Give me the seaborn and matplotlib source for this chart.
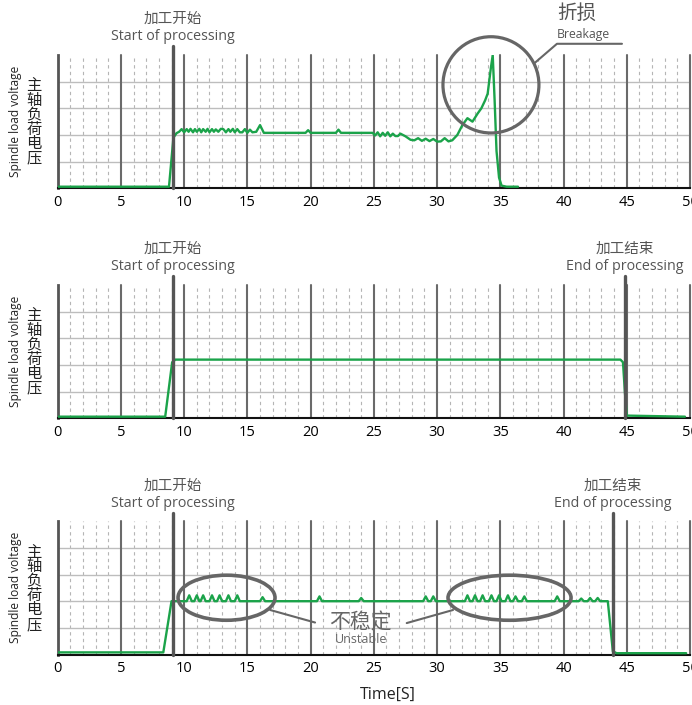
import matplotlib
matplotlib.use("Agg")
import matplotlib.pyplot as plt
from matplotlib.patches import Ellipse
import seaborn as sns

sns.set_style("white")
plt.rcParams["font.family"] = ["Open Sans", "Noto Sans CJK SC"]

GREEN = "#1ba34a"
MARK = "#555555"
NOTE = "#666666"

# panel 1: breakage run
x1 = [0, 8.8, 9.15, 9.4, 9.6, 9.8, 10.0, 10.2, 10.35, 10.5, 10.7, 10.85, 11.0, 11.2, 11.35,
      11.5, 11.7, 11.85, 12.0, 12.2, 12.35, 12.5, 12.7, 12.9, 13.1, 13.3, 13.5, 13.65, 13.85,
      14.0, 14.2, 14.4, 14.6, 14.8, 15.0, 15.2, 15.4, 15.7, 16.0, 16.3, 19.6, 19.8, 20.0,
      22.0, 22.2, 22.4, 24.9, 25.1, 25.3, 25.5, 25.7, 25.9, 26.1, 26.3, 26.5, 26.7, 26.9,
      27.1, 27.5, 27.9, 28.2, 28.5, 28.8, 29.1, 29.4, 29.7, 30.0, 30.3, 30.6, 30.9, 31.2,
      31.6, 32.0, 32.4, 32.8, 33.2, 33.5, 33.8, 34.0, 34.25, 34.4, 34.55, 34.7, 34.9, 35.1,
      35.5, 36.4]
y1 = [0.06, 0.06, 1.9, 2.07, 2.12, 2.22, 2.1, 2.22, 2.12, 2.23, 2.1, 2.22, 2.12, 2.23, 2.1,
      2.22, 2.12, 2.23, 2.1, 2.22, 2.12, 2.21, 2.12, 2.23, 2.22, 2.1, 2.22, 2.12, 2.23,
      2.1, 2.22, 2.1, 2.1, 2.22, 2.08, 2.2, 2.1, 2.12, 2.37, 2.08, 2.08, 2.18, 2.08,
      2.08, 2.2, 2.08, 2.08, 1.98, 2.1, 1.95, 2.08, 1.97, 2.1, 1.95, 2.05, 1.96, 1.96,
      2.05, 1.95, 1.82, 1.8, 1.88, 1.78, 1.86, 1.77, 1.85, 1.75, 1.76, 1.88, 1.76, 1.8,
      2.0, 2.37, 2.63, 2.5, 2.8, 3.0, 3.3, 3.55, 4.5, 5.0, 3.3, 1.4, 0.4, 0.1,
      0.06, 0.06]

# panel 2: normal run
x2 = [0, 8.5, 9.05, 9.3, 44.5, 44.7, 44.85, 45.0, 49.6]
y2 = [0.06, 0.06, 2.1, 2.2, 2.2, 2.1, 1.0, 0.1, 0.06]

# panel 3: unstable run
x3 = [0, 8.35, 9.0,
      10.2, 10.4, 10.6, 10.8, 11.0, 11.2, 11.3, 11.5, 11.7, 12.0, 12.2, 12.4,
      12.6, 12.8, 13.0, 13.3, 13.5, 13.7, 14.0, 14.2, 14.4, 16.0, 16.2, 16.4,
      20.5, 20.7, 20.9, 23.8, 24.0, 24.2, 28.9, 29.1, 29.3, 29.5, 29.7, 29.9,
      32.2, 32.4, 32.6, 32.8, 33.0, 33.2, 33.4, 33.6, 33.8, 34.1, 34.3, 34.5,
      34.7, 34.9, 35.1, 35.4, 35.6, 35.8, 36.0, 36.2, 36.4, 36.7, 36.9, 37.1,
      39.3, 39.5, 39.7, 41.2, 41.4, 41.6, 41.9, 42.1, 42.3, 42.5, 42.7, 42.9,
      43.5, 43.9, 44.2, 49.7]
y3 = [0.08, 0.08, 2.0,
      2.0, 2.22, 2.0, 2.0, 2.22, 2.0, 2.0, 2.22, 2.0, 2.0, 2.22, 2.0,
      2.0, 2.22, 2.0, 2.0, 2.22, 2.0, 2.0, 2.22, 2.0, 2.0, 2.15, 2.0,
      2.0, 2.18, 2.0, 2.0, 2.12, 2.0, 2.0, 2.18, 2.0, 2.0, 2.18, 2.0,
      2.0, 2.22, 2.0, 2.0, 2.22, 2.0, 2.0, 2.22, 2.0, 2.0, 2.22, 2.0,
      2.0, 2.22, 2.0, 2.0, 2.22, 2.0, 2.0, 2.18, 2.0, 2.0, 2.18, 2.0,
      2.0, 2.18, 2.0, 2.0, 2.1, 2.0, 2.0, 2.12, 2.0, 2.0, 2.12, 2.0,
      2.0, 0.12, 0.05, 0.05]

ticks = list(range(0, 51, 5))
start_x = 9.1
end_x = [None, 44.85, 43.9]

fig = plt.figure(figsize=(6.92, 7.05), dpi=100)
left, width, height = 0.0834, 0.9137, 0.1891
bottoms = [0.7329, 0.4067, 0.0716]
series = [(x1, y1), (x2, y2), (x3, y3)]
axes = []

for i, (bottom, (xs, ys)) in enumerate(zip(bottoms, series)):
    ax = fig.add_axes([left, bottom, width, height])
    axes.append(ax)
    ax.set_xlim(0, 50)
    ax.set_ylim(0, 5)
    for x in range(1, 50):
        if x % 5:
            ax.axvline(x, color="#b5b5b5", lw=0.8, ls=(0, (3, 3)), zorder=0)
    for y in range(1, 5):
        ax.axhline(y, color="#bdbdbd", lw=1.0, zorder=0)
    for x in range(5, 51, 5):
        ax.axvline(x, color="#6a6a6a", lw=1.5, zorder=1, clip_on=False)
    sns.lineplot(x=xs, y=ys, ax=ax, color=GREEN, lw=1.7, sort=False,
                 estimator=None, zorder=4)
    ax.set_xticks(ticks)
    ax.set_yticks([])
    ax.set_xlabel("")
    ax.set_ylabel("")
    ax.tick_params(axis="x", length=0, pad=5, labelsize=10.5, labelcolor="#000")
    for s in ["top", "right"]:
        ax.spines[s].set_visible(False)
    ax.spines["left"].set_color("#555")
    ax.spines["left"].set_linewidth(2)
    ax.spines["bottom"].set_color("#111")
    ax.spines["bottom"].set_linewidth(1.5)

    # markers for start / end of processing
    def marker(xm, cn, en):
        ax.axvline(xm, ymin=0, ymax=1.065, color=MARK, lw=2.4, zorder=5, clip_on=False)
        ax.annotate(cn, xy=(xm, 1), xycoords=("data", "axes fraction"), xytext=(0, 25.5),
                    textcoords="offset points", ha="center", va="center",
                    fontsize=10.5, color="#555")
        ax.annotate(en, xy=(xm, 1), xycoords=("data", "axes fraction"), xytext=(0, 13),
                    textcoords="offset points", ha="center", va="center",
                    fontsize=10.3, color="#555")

    marker(start_x, "加工开始", "Start of processing")
    if end_x[i] is not None:
        marker(end_x[i], "加工结束", "End of processing")

    fig.text(16 / 692, bottom + height / 2, "Spindle load voltage", rotation=90,
             ha="center", va="center", fontsize=8.6, color="#222")
    fig.text(34 / 692, bottom + height / 2 - 0.002, "\n".join("主轴负荷电压"),
             ha="center", va="center", fontsize=11, linespacing=0.95, color="#222")

# breakage callout
ax = axes[0]
ax.add_patch(Ellipse((34.26, 3.88), 7.59, 3.61, fill=False, ec=NOTE, lw=2.3,
                     clip_on=False, zorder=6))
ax.plot([37.74, 39.48, 44.62], [4.71, 5.42, 5.42], color=NOTE, lw=1.5, clip_on=False,
        zorder=6)
ax.text(39.48, 6.55, "折损", ha="left", va="center", fontsize=14, color="#555")
ax.text(39.48, 5.76, "Breakage", ha="left", va="center", fontsize=8.8, color="#555")

# unstable callout
ax = axes[2]
ax.add_patch(Ellipse((13.35, 2.13), 7.67, 1.69, fill=False, ec=NOTE, lw=2.6,
                     clip_on=False, zorder=6))
ax.add_patch(Ellipse((35.73, 2.13), 9.73, 1.69, fill=False, ec=NOTE, lw=2.6,
                     clip_on=False, zorder=6))
ax.plot([16.8, 20.35], [1.67, 1.2], color=NOTE, lw=1.5, zorder=6)
ax.plot([31.26, 27.6], [1.67, 1.18], color=NOTE, lw=1.5, zorder=6)
ax.text(23.9, 1.18, "不稳定", ha="center", va="center", fontsize=15, color="#666",
        zorder=7)
ax.text(24.0, 0.58, "Unstable", ha="center", va="center", fontsize=9, color="#666",
        zorder=7)

fig.text(388 / 692, 1 - 695 / 705, "Time[S]", ha="center", va="center",
         fontsize=11.5, color="#222")

fig.savefig("out.png", dpi=100)
